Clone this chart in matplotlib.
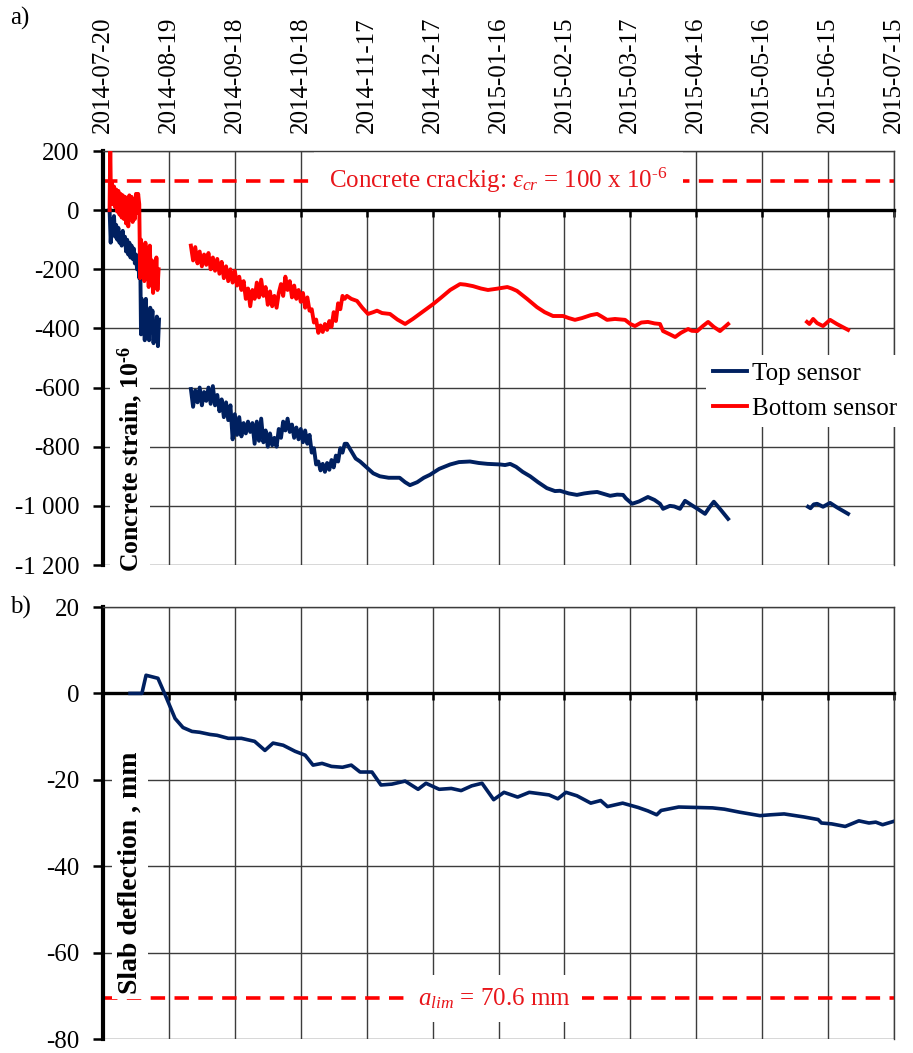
import matplotlib
matplotlib.use('Agg')
import matplotlib.pyplot as plt

plt.rcParams['font.family'] = ['Liberation Serif', 'DejaVu Serif']
plt.rcParams['mathtext.fontset'] = 'custom'
plt.rcParams['mathtext.rm'] = 'Liberation Serif'
plt.rcParams['mathtext.it'] = 'Liberation Serif:italic'
plt.rcParams['mathtext.bf'] = 'Liberation Serif:bold'
plt.rcParams['axes.unicode_minus'] = False

# ---------------- data (x = days after 2014-07-20) ----------------
tick_days = [0, 30, 60, 90, 120, 150, 180, 210, 240, 270, 300, 330, 360]
tick_dates = ['2014-07-20', '2014-08-19', '2014-09-18', '2014-10-18', '2014-11-17',
              '2014-12-17', '2015-01-16', '2015-02-15', '2015-03-17', '2015-04-16',
              '2015-05-16', '2015-06-15', '2015-07-15']

strain_ticks = [-1200, -1000, -800, -600, -400, -200, 0, 200]
strain_labels = ['-1 200', '-1 000', '-800', '-600', '-400', '-200', '0', '200']
defl_ticks = [-80, -60, -40, -20, 0, 20]
defl_labels = ['-80', '-60', '-40', '-20', '0', '20']

# Top sensor, segment 1
top1_days = [3.0, 3.5, 4.0, 4.5, 5.0, 5.5, 6.0, 6.5, 7.0, 7.5, 8.0, 8.5, 9.0, 9.5, 10.0,
             10.5, 11.0, 11.5, 12.0, 12.5, 13.0, 13.5, 14.0, 14.5, 15.0, 15.5, 16.0, 16.5,
             17.0, 17.3, 17.6, 18.0, 18.5, 19.0, 19.5, 20.0, 20.5, 21.0, 21.5, 22.0, 22.5,
             23.0, 23.5, 24.0, 24.5, 25.0, 25.5]
top1_vals = [0, -110, -30, -60, -20, -90, -50, -100, -60, -110, -80, -120, -70, -115, -90,
             -140, -100, -150, -110, -160, -120, -165, -130, -180, -150, -200, -170, -230,
             -200, -420, -300, -390, -330, -440, -300, -410, -350, -440, -330, -400, -340,
             -450, -380, -420, -360, -460, -370]

# Bottom sensor, segment 1
bot1_days = [3.0, 3.3, 3.6, 4.0, 4.5, 5.0, 5.5, 6.0, 6.5, 7.0, 7.5, 8.0, 8.5, 9.0, 9.5,
             10.0, 10.5, 11.0, 11.5, 12.0, 12.5, 13.0, 13.5, 14.0, 14.5, 15.0, 15.5, 16.0,
             16.5, 16.9, 17.3, 17.8, 18.3, 18.8, 19.3, 19.8, 20.3, 20.8, 21.3, 21.8, 22.3,
             22.8, 23.3, 23.8, 24.3, 24.8, 25.3]
bot1_vals = [0, 230, 40, 95, 20, 80, 10, 70, -5, 65, -15, 55, -25, 50, -30,
             45, -45, 40, -55, 50, -20, 45, -40, 35, -30, 55, -10, 55,
             20, -230, -100, -200, -140, -240, -110, -220, -150, -260, -120, -230, -170,
             -280, -180, -250, -160, -270, -200]

# Bottom sensor, segment 2
bot2_days = [40, 41, 42, 43, 44, 45, 46, 47, 48, 49, 50, 51, 52, 53, 54, 55, 56, 57, 58, 59,
             60, 61, 62, 63, 64, 65, 66, 67, 68, 69, 70, 71, 72, 73, 74, 75, 76, 77, 78, 79,
             80, 81, 82, 83, 84, 85, 86, 87, 88, 89, 90, 91, 92, 93, 94, 95, 96, 97, 98, 99,
             100, 101, 102, 103, 104, 105, 106, 107, 108, 109, 110,
             111, 113, 115.6, 118, 120.6, 123, 124.7, 127, 130.6, 134, 137.5, 141, 144.3,
             147, 150.2, 154, 158, 162.5, 165, 168.4, 172, 175.2, 179, 184, 186, 188.4,
             193, 197.5, 201, 204.8, 209.4, 212, 214.8, 218, 222, 224.9, 227, 229.4, 233,
             237.6, 240, 242.1, 245, 248, 251, 253.5, 254.9, 258, 260.4, 263, 266.3, 268,
             270.4, 273, 275.4, 278, 280.8, 282.5, 284.5]
bot2_vals = [-120, -170, -125, -180, -140, -190, -150, -185, -145, -200, -160, -205, -165,
             -215, -175, -230, -190, -240, -200, -245, -205, -255, -225, -270, -240, -300,
             -265, -325, -270, -300, -245, -295, -235, -290, -260, -320, -275, -325, -290,
             -330, -280, -250, -290, -225, -270, -240, -295, -255, -300, -270, -310, -280,
             -330, -295, -340, -335, -380, -370, -415, -390, -412, -385, -405, -375, -395,
             -345, -375, -315, -335, -290, -300,
             -290, -300, -307, -330, -351, -345, -340, -348, -351, -370, -385, -368, -350,
             -335, -318, -295, -270, -250, -252, -257, -265, -270, -266, -260, -265, -273,
             -300, -328, -345, -358, -358, -365, -371, -365, -355, -351, -360, -371, -368,
             -371, -385, -392, -380, -378, -383, -385, -409, -420, -429, -415, -402, -408,
             -409, -392, -378, -395, -409, -398, -385]

# Top sensor, segment 2
top2_days = [40, 41, 42, 43, 44, 45, 46, 47, 48, 49, 50, 51, 52, 53, 54, 55, 56, 57, 58, 59,
             60, 61, 62, 63, 64, 65, 66, 67, 68, 69, 70, 71, 72, 73, 74, 75, 76, 77, 78, 79,
             80, 81, 82, 83, 84, 85, 86, 87, 88, 89, 90, 91, 92, 93, 94, 95, 96, 97, 98, 99,
             100, 101, 102, 103, 104, 105, 106, 107, 108, 109, 110,
             111, 113, 115, 117, 120, 123, 126, 130, 135, 137.5, 139.7, 143, 146, 148.8,
             153, 158, 162, 167, 171, 175, 180.7, 183, 185.3, 188, 191, 194.4, 198, 202,
             205.7, 208, 212, 215.7, 219, 222, 224.9, 228, 230.8, 234, 236.7, 238, 240.8,
             244, 248, 251, 253.5, 254.9, 256.5, 258, 260, 262.6, 264.9, 268, 271, 274,
             276, 278, 281, 284.5]
top2_vals = [-605, -665, -610, -650, -600, -660, -615, -645, -600, -655, -595, -660, -625,
             -680, -640, -700, -650, -710, -660, -775, -690, -760, -700, -765, -720, -755,
             -715, -750, -720, -790, -715, -780, -705, -785, -745, -800, -755, -795, -770,
             -800, -740, -770, -715, -745, -705, -750, -725, -770, -735, -775, -740, -785,
             -745, -790, -760, -820, -805, -860, -850, -880, -858, -885, -855, -878, -845,
             -870, -830, -850, -805, -820, -790,
             -790, -815, -840, -850, -870, -890, -900, -905, -905, -920, -930, -920, -905,
             -895, -875, -860, -852, -850, -855, -858, -860, -862, -858, -868, -885, -900,
             -920, -940, -950, -949, -958, -963, -958, -955, -953, -960, -966, -962, -963,
             -975, -993, -985, -970, -980, -993, -1010, -1005, -1000, -1002, -1010, -983,
             -998, -1012, -1027, -1005, -986, -1012, -1044]

# Segment 3 (after data gap)
bot3_days = [320.4, 321.5, 323.2, 325, 327.7, 330.9, 334, 339.1]
bot3_vals = [-378, -385, -368, -382, -392, -371, -385, -405]
top3_days = [320.9, 322, 323.5, 325, 327.7, 330.9, 334, 339.1]
top3_vals = [-1003, -1008, -995, -993, -1003, -990, -1005, -1027]

# Slab deflection
defl_days = [12.3, 17.7, 19.6, 25.0, 28.0, 32.8, 36.4, 40.5, 44.0, 48.7, 51.9, 57.0, 63.0,
             69.0, 73.7, 77.4, 82.0, 87.4, 92.0, 95.6, 99.7, 104.0, 109.0, 113.0, 117.0,
             122.4, 126.5, 131.5, 137.5, 143.4, 147.0, 153.0, 158.5, 163.0, 167.8, 172.5,
             177.8, 182.5, 188.7, 194.0, 203.0, 207.0, 210.7, 215.7, 222.0, 226.5, 229.6,
             236.5, 243.5, 248.0, 252.0, 254.0, 262.0, 269.7, 277.4, 282.8, 289.8, 299.0,
             303.8, 310.0, 319.0, 325.5, 327.0, 331.6, 337.8, 344.0, 348.6, 351.7, 354.8,
             360.0]
defl_vals = [0, 0, 4.2, 3.5, 0, -5.8, -7.9, -8.8, -9.0, -9.5, -9.7, -10.4, -10.4,
             -11.1, -13.2, -11.5, -12.0, -13.4, -14.3, -16.6, -16.2, -16.9, -17.1, -16.6, -18.2,
             -18.2, -21.2, -21.0, -20.3, -22.2, -20.8, -22.2, -22.0, -22.5, -21.4, -20.8,
             -24.6, -22.9, -24.0, -22.9, -23.5, -24.4, -22.9, -23.7, -25.4, -24.8, -26.2,
             -25.4, -26.4, -27.2, -28.1, -27.1, -26.3, -26.4, -26.5, -26.8, -27.5, -28.3,
             -28.1, -27.9, -28.6, -29.2, -30.0, -30.2, -30.8, -29.5, -30.0, -29.8, -30.4,
             -29.6]

crack_limit = 100
defl_limit = -70.6

# ---------------- styling ----------------
NAVY = '#002060'
RED = '#FF0000'
TXT_RED = '#E8161B'
GRID = '#3c3c3c'
FS = 18
HY = '\u2010'  # typographic hyphen for the exponents

W, H = 913, 1053
fig = plt.figure(figsize=(W / 100, H / 100), dpi=100)
ax1 = fig.add_axes([103 / W, 1 - 565 / H, 791 / W, 414 / H])
ax2 = fig.add_axes([103 / W, 1 - 1039 / H, 791 / W, 432 / H])


def style(ax, yt, yl, ylim, top_labels):
    ax.set_xlim(0, 360)
    ax.set_ylim(*ylim)
    ax.set_xticks(tick_days)
    ax.set_xticklabels(tick_dates if top_labels else [''] * len(tick_days))
    ax.set_yticks(yt)
    ax.set_yticklabels(yl)
    ax.grid(True, color=GRID, lw=1.0)
    ax.spines['bottom'].set_position(('data', 0))
    ax.spines['bottom'].set_linewidth(2.4)
    ax.spines['left'].set_linewidth(3.0)
    for s in ('top', 'right'):
        ax.spines[s].set_linewidth(1.0)
        ax.spines[s].set_color(GRID)
    ax.tick_params(axis='y', direction='out', length=7, width=1.8, pad=10, labelsize=FS)
    ax.tick_params(axis='x', direction='out', length=5, width=1.8, bottom=True, top=False,
                   labelbottom=False, labeltop=top_labels, labelsize=FS, pad=8,
                   labelrotation=90)


style(ax1, strain_ticks, strain_labels, (-1200, 200), True)
style(ax2, defl_ticks, defl_labels, (-80, 20), False)

dash = (0, (4, 2.6))
LW = 2.8

# top panel
ax1.plot(top1_days, top1_vals, color=NAVY, lw=LW, zorder=3, label='Top sensor')
ax1.plot(top2_days, top2_vals, color=NAVY, lw=LW, zorder=3)
ax1.plot(top3_days, top3_vals, color=NAVY, lw=LW, zorder=3)
ax1.plot(bot1_days, bot1_vals, color=RED, lw=LW, zorder=3.1, label='Bottom sensor')
ax1.plot(bot2_days, bot2_vals, color=RED, lw=LW, zorder=3.1)
ax1.plot(bot3_days, bot3_vals, color=RED, lw=LW, zorder=3.1)
ax1.axhline(crack_limit, color=RED, lw=2.6, ls=dash, zorder=2)
ax1.text(180, crack_limit,
         'Concrete crackig: $\\varepsilon_{cr}$ = 100 x 10$^{\\mathrm{' + HY + '6}}$',
         color=TXT_RED, fontsize=FS, ha='center', va='center', zorder=2.2,
         bbox=dict(boxstyle='square,pad=0.6', facecolor='white', edgecolor='none'))
ax1.text(0.034, -0.018, 'Concrete strain, 10$^{\\mathbf{' + HY + '6}}$',
         transform=ax1.transAxes, rotation=90, ha='center', va='bottom', fontsize=18.5,
         fontweight='bold', zorder=2.2,
         bbox=dict(boxstyle='square,pad=0.2', facecolor='white', edgecolor='none'))
ax1.legend(loc='upper left', bbox_to_anchor=(0.762, 0.508), borderaxespad=0, frameon=True,
           framealpha=1, edgecolor='none', fancybox=False, fontsize=FS, handlelength=1.35,
           handletextpad=0.2, labelspacing=0.5, borderpad=0.3)

# bottom panel
ax2.plot(defl_days, defl_vals, color=NAVY, lw=2.6, zorder=3)
ax2.axhline(defl_limit, color=RED, lw=2.6, ls=dash, zorder=2)
ax2.text(178, defl_limit, '$a_{lim}$ = 70.6 mm', color=TXT_RED, fontsize=FS,
         ha='center', va='center', zorder=2.2,
         bbox=dict(boxstyle='square,pad=0.45', facecolor='white', edgecolor='none'))
ax2.text(0.034, 0.105, 'Slab deflection , mm', transform=ax2.transAxes,
         rotation=90, ha='center', va='bottom', fontsize=20, fontweight='bold', zorder=2.2,
         bbox=dict(boxstyle='square,pad=0.2', facecolor='white', edgecolor='none'))

fig.text(10 / W, 1 - 18 / H, 'a)', fontsize=FS, va='center', ha='left')
fig.text(10 / W, 1 - 607 / H, 'b)', fontsize=FS, va='center', ha='left')

fig.savefig('out.png', dpi=100, facecolor='white')
